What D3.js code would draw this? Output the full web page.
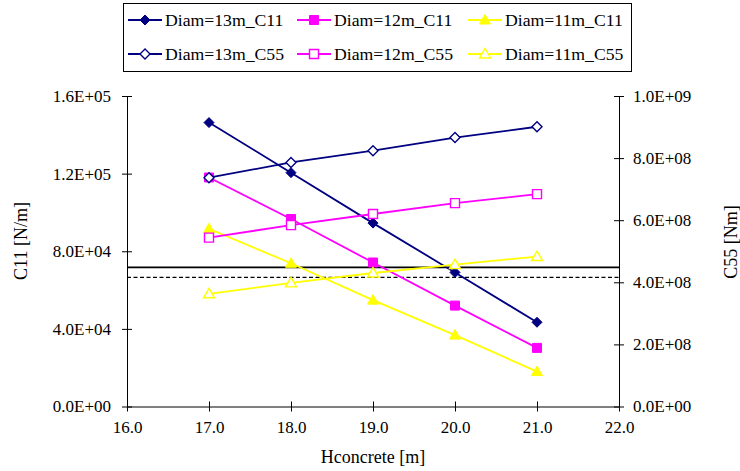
<!DOCTYPE html>
<html><head><meta charset="utf-8">
<script src="https://cdn.jsdelivr.net/npm/d3@7"></script>
<style>
html,body{margin:0;padding:0;background:#fff;}
svg{display:block;}
svg text{font-family:"Liberation Serif","Times New Roman",Times,serif !important;fill:#000;}
</style></head>
<body><svg id="c" width="740" height="471"></svg>
<script>
const hConcrete = [17, 18, 19, 20, 21];
const c11_13 = [146300, 120500, 94500, 69100, 43400];
const c11_12 = [118000, 96600, 74200, 52000, 30200];
const c11_11 = [91600, 73800, 54800, 36800, 18000];
const c55_13 = [7.37e8, 7.86e8, 8.24e8, 8.66e8, 9.01e8];
const c55_12 = [5.44e8, 5.84e8, 6.20e8, 6.55e8, 6.84e8];
const c55_11 = [3.63e8, 3.98e8, 4.30e8, 4.57e8, 4.83e8];
const refSolid = 71700;
const refDashed = 66500;
const xTicks = [16, 17, 18, 19, 20, 21, 22];
const leftTicks = [0, 40000, 80000, 120000, 160000];
const rightTicks = [0, 2e8, 4e8, 6e8, 8e8, 1e9];
const seriesNames = ["Diam=13m_C11","Diam=12m_C11","Diam=11m_C11","Diam=13m_C55","Diam=12m_C55","Diam=11m_C55"];

const FONT = "Liberation Serif";
const svg = d3.select("#c");
const L = 127, R = 619, T = 96, B = 406.5;
const x = d3.scaleLinear().domain([16, 22]).range([L, R]);
const yL = d3.scaleLinear().domain([0, 160000]).range([B, T]);
const yR = d3.scaleLinear().domain([0, 1e9]).range([B, T]);

const expFmt = v => {
  let s = v.toExponential(1).toUpperCase();
  return s.replace(/E([+-])(\d)$/, "E$10$2");
};

function styleAxis(g){
  g.attr("font-family", FONT);
  g.select(".domain").attr("stroke","#000").attr("stroke-width",1);
  g.selectAll(".tick line").attr("stroke","#000").attr("stroke-width",1);
  g.selectAll(".tick text").attr("fill","#000").attr("font-family",FONT).style("font-size","17px");
}
const gx = svg.append("g").attr("transform",`translate(0,${B})`)
  .call(d3.axisBottom(x).tickValues(xTicks).tickFormat(d3.format(".1f")).tickSizeInner(5).tickSizeOuter(0).tickPadding(6));
styleAxis(gx);
gx.selectAll(".tick line").attr("y1",-5).attr("y2",5);
gx.selectAll(".tick text").attr("y",14);

const gl = svg.append("g").attr("transform",`translate(${L},0)`)
  .call(d3.axisLeft(yL).tickValues(leftTicks).tickFormat(expFmt).tickSizeInner(5).tickSizeOuter(0).tickPadding(12));
styleAxis(gl);
gl.selectAll(".tick line").attr("x1",-5).attr("x2",5);
gl.selectAll(".tick text").attr("x",-16);

const gr = svg.append("g").attr("transform",`translate(${R},0)`)
  .call(d3.axisRight(yR).tickValues(rightTicks).tickFormat(expFmt).tickSizeInner(5).tickSizeOuter(0).tickPadding(12));
styleAxis(gr);
gr.selectAll(".tick line").attr("x1",-5).attr("x2",5);
gr.selectAll(".tick text").attr("x",14);

svg.append("text").attr("x",(L+R)/2).attr("y",463).attr("text-anchor","middle")
  .attr("font-family",FONT).style("font-size","18px").text("Hconcrete [m]");
svg.append("text").attr("transform","translate(27,241) rotate(-90)").attr("text-anchor","middle")
  .attr("font-family",FONT).style("font-size","18px").text("C11 [N/m]");
svg.append("text").attr("transform","translate(737,242) rotate(-90)").attr("text-anchor","middle")
  .attr("font-family",FONT).style("font-size","18px").text("C55 [Nm]");

svg.append("line").attr("x1",L).attr("x2",R).attr("y1",yL(refSolid)).attr("y2",yL(refSolid))
  .attr("stroke","#000").attr("stroke-width",1.6);
svg.append("line").attr("x1",L).attr("x2",R).attr("y1",yL(refDashed)).attr("y2",yL(refDashed))
  .attr("stroke","#000").attr("stroke-width",1.3).attr("stroke-dasharray","4,2.5");

const navy = "#000080", mag = "#FF00FF", yel = "#FFFF00";
const series = [
  {name:seriesNames[0], vals:c11_13, y:yL, color:navy, sym:"diamond", filled:true},
  {name:seriesNames[1], vals:c11_12, y:yL, color:mag, sym:"square", filled:true},
  {name:seriesNames[2], vals:c11_11, y:yL, color:yel, sym:"triangle", filled:true},
  {name:seriesNames[3], vals:c55_13, y:yR, color:navy, sym:"diamond", filled:false},
  {name:seriesNames[4], vals:c55_12, y:yR, color:mag, sym:"square", filled:false},
  {name:seriesNames[5], vals:c55_11, y:yR, color:yel, sym:"triangle", filled:false}
];
function symPath(t){
  if (t==="diamond") return "M0,-5L5,0L0,5L-5,0Z";
  if (t==="square") return "M-4.5,-4.5H4.5V4.5H-4.5Z";
  return "M0,-5.5L5.5,4L-5.5,4Z";
}
function marker(g, s, cx, cy){
  g.append("path").attr("d", symPath(s.sym))
    .attr("transform",`translate(${cx},${cy})`)
    .attr("fill", s.filled ? s.color : "#fff")
    .attr("stroke", s.color).attr("stroke-width", s.filled ? 1 : 1.4);
}

series.forEach(s=>{
  const line = d3.line().x((d,i)=>x(hConcrete[i])).y(d=>s.y(d));
  svg.append("path").datum(s.vals).attr("d",line).attr("fill","none")
    .attr("stroke",s.color).attr("stroke-width",1.8);
  const g = svg.append("g");
  s.vals.forEach((v,i)=>marker(g, s, x(hConcrete[i]), s.y(v)));
});

svg.append("rect").attr("x",123.5).attr("y",3.5).attr("width",508).attr("height",68)
  .attr("fill","#fff").attr("stroke","#000").attr("stroke-width",1);
const colX = [128, 297, 468];
const rowY = [20, 54];
series.forEach((s,i)=>{
  const cx = colX[i%3], cy = rowY[Math.floor(i/3)];
  const g = svg.append("g");
  g.append("line").attr("x1",cx).attr("x2",cx+34).attr("y1",cy).attr("y2",cy)
    .attr("stroke",s.color).attr("stroke-width",1.8);
  marker(g, s, cx+17, cy);
  g.append("text").attr("x",cx+37).attr("y",cy+6).attr("font-family",FONT).style("font-size","17.7px").text(s.name);
});
</script></body></html>
